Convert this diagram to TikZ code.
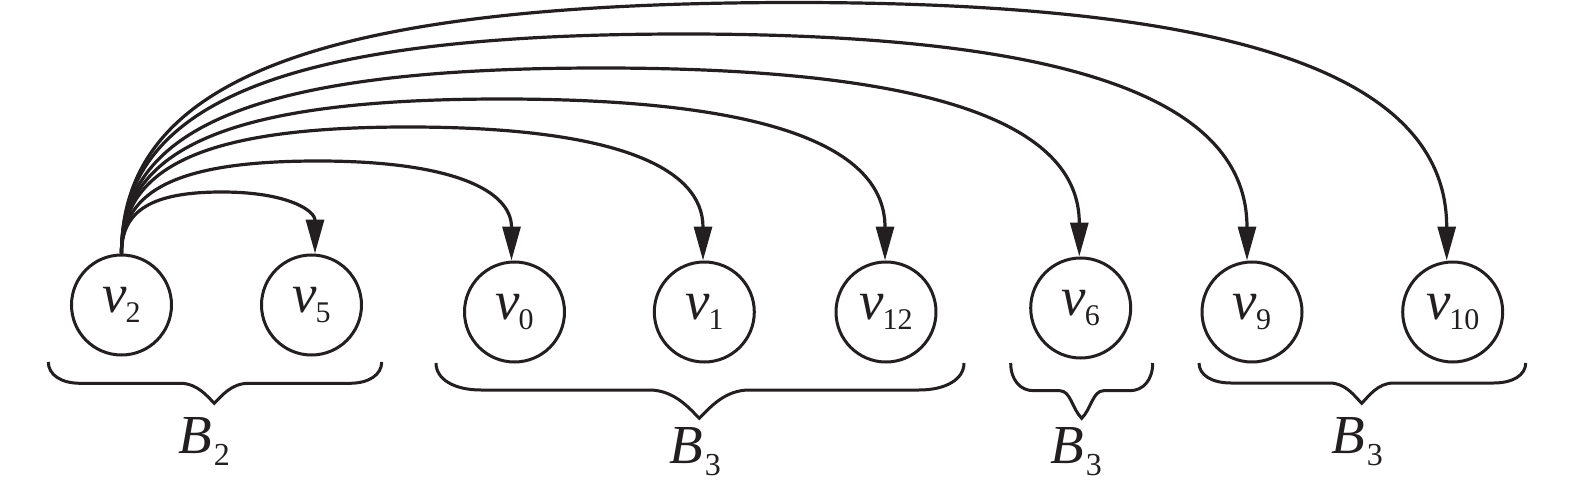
\documentclass[tikz,border=0pt]{standalone}
\usepackage{fontspec}
\setmainfont{Liberation Serif}
\usetikzlibrary{arrows.meta,calc}
\definecolor{ink}{HTML}{231F20}
\newcommand\vlab[1]{\textit{v}\kern-1pt\raisebox{-10pt}{\fontsize{30}{30}\selectfont #1}}
\newcommand\blab[1]{\textit{B}\kern2pt\raisebox{-12pt}{\fontsize{32}{32}\selectfont #1}}
% curved connector from v2 through a peak coordinate to a target coordinate
\newcommand\arcedge[2]{%
  \coordinate (ca) at (v2.north|-#2);
  \coordinate (cb) at (#1|-#2);
  \draw[edge] (v2.north) .. controls ($(v2.north)!0.7!(ca)$) and ($(#2)!0.7!(ca)$) .. (#2)
     .. controls ($(#2)!0.7!(cb)$) and ($(#1)!0.7!(cb)$) .. (#1);}
% brace: xl xr xtip ytop ymid ybottom curl-extent tip-extent
\newcommand\mybrace[8]{%
  \draw[br] (#1,#4) .. controls (#1,{#4+0.6*(#5-#4)}) and ({#1+0.4*#7},#5) .. ({#1+#7},#5)
    -- ({#3-#8},#5) .. controls ({#3-0.5*#8},#5) and ({#3-0.35*(#6-#5)},{#6-0.35*(#6-#5)}) .. (#3,#6)
    .. controls ({#3+0.35*(#6-#5)},{#6-0.35*(#6-#5)}) and ({#3+0.5*#8},#5) .. ({#3+#8},#5)
    -- ({#2-#7},#5) .. controls ({#2-0.4*#7},#5) and (#2,{#4+0.6*(#5-#4)}) .. (#2,#4);}
\begin{document}
\begin{tikzpicture}[x=1pt,y=-1pt,
  vert/.style={circle,draw=ink,line width=3pt,minimum size=100pt,inner sep=0pt,
    font=\fontsize{55}{60}\selectfont,text=ink},
  edge/.style={draw=ink,line width=3.2pt,-{Triangle[length=34pt,width=18pt]}},
  br/.style={draw=ink,line width=3pt},
  blabel/.style={anchor=base west,inner sep=0pt,font=\fontsize{55}{60}\selectfont,text=ink}]
\useasboundingbox (0,0) rectangle (1575,492);

\node[vert] (v2)  at (121.5,305) {\vlab{2}};
\node[vert] (v5)  at (311.5,305) {\vlab{5}};
\node[vert] (v0)  at (514.5,312) {\vlab{0}};
\node[vert] (v1)  at (704.3,312) {\vlab{1}};
\node[vert] (v12) at (886,312)   {\vlab{12}};
\node[vert] (v6)  at (1080.7,308) {\vlab{6}};
\node[vert] (v9)  at (1252,312)  {\vlab{9}};
\node[vert] (v10) at (1452.7,312) {\vlab{10}};

\coordinate (t5)  at ([xshift=3.5pt]v5.north);
\coordinate (t0)  at ([xshift=-3pt]v0.north);
\coordinate (t1)  at ([xshift=-1.3pt]v1.north);
\coordinate (t12) at ([xshift=-1pt]v12.north);
\coordinate (t6)  at ([xshift=-1.4pt]v6.north);
\coordinate (t9)  at ([xshift=-5pt]v9.north);
\coordinate (t10) at ([xshift=-6pt]v10.north);

\coordinate (p5)  at (222,192);
\coordinate (p0)  at (318,161);
\coordinate (p1)  at (408,127);
\coordinate (p12) at (502,99);
\coordinate (p6)  at (601,68);
\coordinate (p9)  at (684,34);
\coordinate (p10) at (795,2.5);

\arcedge{t5}{p5}
\arcedge{t0}{p0}
\arcedge{t1}{p1}
\arcedge{t12}{p12}
\arcedge{t6}{p6}
\arcedge{t9}{p9}
\arcedge{t10}{p10}

\mybrace{48.3}{381.7}{214.3}{362}{383.3}{403.3}{32}{34}
\mybrace{436}{964}{699.3}{363}{390}{418.3}{45}{50}
\mybrace{1010.7}{1152.7}{1081.7}{363}{390.7}{418.3}{23}{22}
\mybrace{1199}{1525.7}{1361.7}{363}{383}{403.3}{32}{32}

\node[blabel] (b1) at (178,453)  {\blab{2}};
\node[blabel] (b2) at (669,463)  {\blab{3}};
\node[blabel] (b3) at (1050,463) {\blab{3}};
\node[blabel] (b4) at (1331,453) {\blab{3}};
\end{tikzpicture}
\end{document}
